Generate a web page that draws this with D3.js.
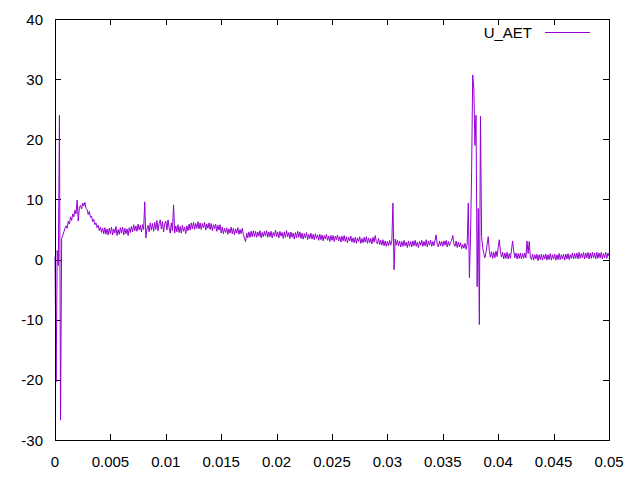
<!DOCTYPE html>
<html>
<head>
<meta charset="utf-8">
<script src="https://cdn.jsdelivr.net/npm/d3@7"></script>
<style>
  body { margin: 0; background: #fff; }
  text { font-family: "Liberation Sans", Arial, sans-serif; font-size: 15px; fill: #000; }
</style>
</head>
<body>
<div id="chart"></div>
<script>
// sample step of the recorded signal (s)
const sampleStep = 0.0001;

const xTicks = [0, 0.005, 0.01, 0.015, 0.02, 0.025, 0.03, 0.035, 0.04, 0.045, 0.05];
const yTicks = [-30, -20, -10, 0, 10, 20, 30, 40];
const seriesName = "U_AET";

// U_AET values, one per sample step
const uAET = [
  0.5, -20.3, 1.5, -1.0, 24.0, -26.7, 3.5, 4.0, 4.6, 5.2,
  5.6, 5.2, 6.4, 5.9, 7.1, 6.5, 7.6, 7.1, 8.2, 7.6,
  9.9, 6.4, 8.7, 9.0, 8.4, 9.4, 8.9, 9.5, 8.5, 8.3,
  7.5, 8.0, 7.0, 7.2, 6.3, 6.7, 5.8, 6.1, 5.3, 5.7,
  4.8, 5.4, 4.5, 5.2, 4.3, 5.3, 4.2, 5.1, 4.1, 5.2,
  4.3, 5.4, 4.1, 5.1, 4.4, 5.5, 4.0, 5.0, 4.2, 5.3,
  4.4, 5.4, 4.1, 5.2, 4.3, 5.1, 4.0, 5.3, 4.5, 5.5,
  4.6, 5.8, 4.8, 5.6, 4.7, 5.9, 4.9, 5.7, 4.6, 5.8,
  5.0, 9.6, 3.6, 5.1, 5.7, 4.6, 6.1, 4.9, 6.0, 4.7,
  6.2, 5.0, 6.5, 4.8, 6.0, 6.6, 5.1, 6.3, 4.6, 5.9,
  6.4, 4.9, 6.6, 5.3, 4.4, 6.1, 4.8, 9.1, 4.4, 5.6,
  4.6, 5.8, 4.5, 5.5, 4.4, 5.7, 4.7, 5.4, 4.3, 5.6,
  4.8, 5.9, 4.9, 6.1, 5.1, 6.2, 5.0, 6.0, 5.2, 6.3,
  5.1, 6.1, 5.0, 6.0, 5.3, 6.2, 4.9, 5.9, 5.2, 6.1,
  5.0, 6.0, 4.8, 5.8, 5.1, 5.9, 4.7, 5.7, 4.9, 5.8,
  4.4, 5.4, 4.3, 5.2, 4.5, 5.3, 4.2, 5.1, 4.4, 5.4,
  4.3, 5.2, 4.1, 5.1, 4.4, 5.3, 4.2, 5.0, 4.3, 5.2,
  4.2, 3.5, 3.0, 4.4, 3.6, 4.6, 3.7, 4.7, 3.8, 4.8,
  3.8, 4.7, 3.7, 4.6, 3.9, 4.8, 3.6, 4.5, 3.8, 4.7,
  3.9, 4.8, 3.7, 4.6, 3.8, 4.7, 3.6, 4.5, 3.9, 4.9,
  3.8, 4.6, 3.6, 4.7, 3.9, 4.5, 3.5, 4.6, 3.7, 4.8,
  3.8, 4.5, 3.5, 4.6, 3.7, 4.4, 3.4, 4.5, 3.6, 4.7,
  3.7, 4.6, 3.5, 4.4, 3.4, 4.3, 3.6, 4.5, 3.3, 4.2,
  3.5, 4.4, 3.4, 4.2, 3.3, 4.3, 3.5, 4.1, 3.2, 4.2,
  3.3, 4.1, 3.1, 4.0, 3.4, 4.2, 3.2, 3.9, 3.0, 4.0,
  3.2, 4.0, 3.0, 3.9, 3.3, 4.1, 3.1, 3.8, 2.9, 3.9,
  3.1, 4.0, 3.0, 3.8, 2.8, 3.7, 3.1, 3.9, 2.9, 3.6,
  2.8, 3.7, 2.7, 3.6, 3.0, 3.8, 2.7, 3.5, 2.8, 3.7,
  2.9, 3.8, 2.7, 3.6, 2.8, 3.5, 2.6, 3.7, 2.9, 4.0,
  3.0, 2.6, 3.5, 2.5, 3.2, 2.4, 3.3, 2.3, 3.1, 2.2,
  3.0, 2.3, 3.2, 2.4, 3.1, 9.4, -1.7, 3.4, 2.4, 3.2,
  2.3, 3.1, 2.1, 3.0, 2.2, 3.2, 2.3, 2.9, 2.0, 3.1,
  2.2, 3.0, 2.1, 3.1, 2.3, 3.2, 2.2, 2.9, 2.0, 3.0,
  2.4, 3.2, 2.2, 3.0, 2.3, 3.3, 2.1, 3.1, 2.4, 3.2,
  2.2, 3.0, 2.3, 3.2, 4.1, 2.5, 2.1, 3.1, 2.3, 3.0,
  2.2, 3.1, 2.4, 3.2, 2.1, 3.0, 2.3, 2.9, 3.2, 4.0,
  2.6, 2.2, 3.1, 2.0, 2.9, 2.1, 2.8, 1.8, 2.5, 1.9,
  2.7, 1.7, 2.5, 9.4, -3.0, 3.5, 14.6, 30.7, 28.5, 19.0,
  24.0, -4.5, 8.5, -10.8, 23.8, 3.8, 2.0, 1.0, 0.3, 1.2,
  2.5, 3.8, 1.5, 0.4, 1.3, 0.2, 1.2, 0.3, 1.4, 0.5,
  2.0, 3.3, 1.3, 0.4, 1.2, 0.1, 1.1, 0.2, 1.2, 0.1,
  1.0, 0.2, 1.6, 3.1, 1.4, 0.3, 1.1, 0.1, 1.0, 0.2,
  1.1, 0.1, 1.0, 0.2, 1.1, 0.3, 3.1, 1.0, 3.0, 0.4,
  0.0, 0.9, -0.1, 0.8, 0.1, 0.9, -0.2, 0.8, 0.0, 0.9,
  -0.1, 0.8, 0.1, 0.9, -0.1, 0.8, 0.0, 1.0, -0.1, 0.8,
  0.1, 0.9, -0.1, 0.8, 0.0, 1.0, 0.0, 0.8, 0.1, 0.9,
  -0.1, 0.9, 0.1, 1.0, 0.0, 0.8, 0.2, 1.1, 0.1, 1.0,
  0.2, 1.1, 0.1, 1.2, 0.2, 1.0, 0.3, 1.2, 0.1, 1.1,
  0.3, 1.2, 0.1, 1.1, 0.2, 1.2, 0.3, 1.1, 0.1, 1.2,
  0.2, 1.1, 0.3, 1.2, 0.1, 1.0, 0.3, 1.2, 0.2, 1.1,
  0.6
];

const width = 640, height = 480;
const margin = { top: 19, right: 31, bottom: 40, left: 55 };
const color = "#9400d3";

const svg = d3.select("#chart")
  .append("svg")
  .attr("width", width)
  .attr("height", height);

const x = d3.scaleLinear().domain([0, 0.05]).range([margin.left, width - margin.right]);
const y = d3.scaleLinear().domain([-30, 40]).range([height - margin.bottom, margin.top]);

const tickLen = 6;

// ticks (gnuplot style: inward, mirrored on all four sides)
const g = svg.append("g").attr("stroke", "#000").attr("stroke-width", 1);
xTicks.forEach(t => {
  const px = Math.round(x(t)) + 0.5;
  g.append("line").attr("x1", px).attr("x2", px)
    .attr("y1", y(-30)).attr("y2", y(-30) - tickLen);
  g.append("line").attr("x1", px).attr("x2", px)
    .attr("y1", y(40)).attr("y2", y(40) + tickLen);
});
yTicks.forEach(t => {
  const py = Math.round(y(t)) + 0.5;
  g.append("line").attr("x1", x(0)).attr("x2", x(0) + tickLen)
    .attr("y1", py).attr("y2", py);
  g.append("line").attr("x1", x(0.05)).attr("x2", x(0.05) - tickLen)
    .attr("y1", py).attr("y2", py);
});

// tick labels
svg.append("g").selectAll("text")
  .data(xTicks)
  .enter()
  .append("text")
  .attr("x", d => x(d))
  .attr("y", y(-30) + 27)
  .attr("text-anchor", "middle")
  .text(d => d3.format("~g")(d));

svg.append("g").selectAll("text")
  .data(yTicks)
  .enter()
  .append("text")
  .attr("x", x(0) - 12)
  .attr("y", d => y(d) + 5.5)
  .attr("text-anchor", "end")
  .text(d => d);

// the signal
const line = d3.line()
  .x((d, i) => x(i * sampleStep))
  .y(d => y(d));

svg.append("path")
  .datum(uAET)
  .attr("fill", "none")
  .attr("stroke", color)
  .attr("stroke-width", 1)
  .attr("d", line);

// border
svg.append("rect")
  .attr("x", Math.round(x(0)) + 0.5)
  .attr("y", Math.round(y(40)) + 0.5)
  .attr("width", Math.round(x(0.05)) - Math.round(x(0)))
  .attr("height", Math.round(y(-30)) - Math.round(y(40)))
  .attr("fill", "none")
  .attr("stroke", "#000")
  .attr("stroke-width", 1);

// legend
svg.append("text")
  .attr("x", 532)
  .attr("y", 38)
  .attr("text-anchor", "end")
  .text(seriesName);

svg.append("line")
  .attr("x1", 545).attr("x2", 590)
  .attr("y1", 32.5).attr("y2", 32.5)
  .attr("stroke", color)
  .attr("stroke-width", 1);
</script>
</body>
</html>
